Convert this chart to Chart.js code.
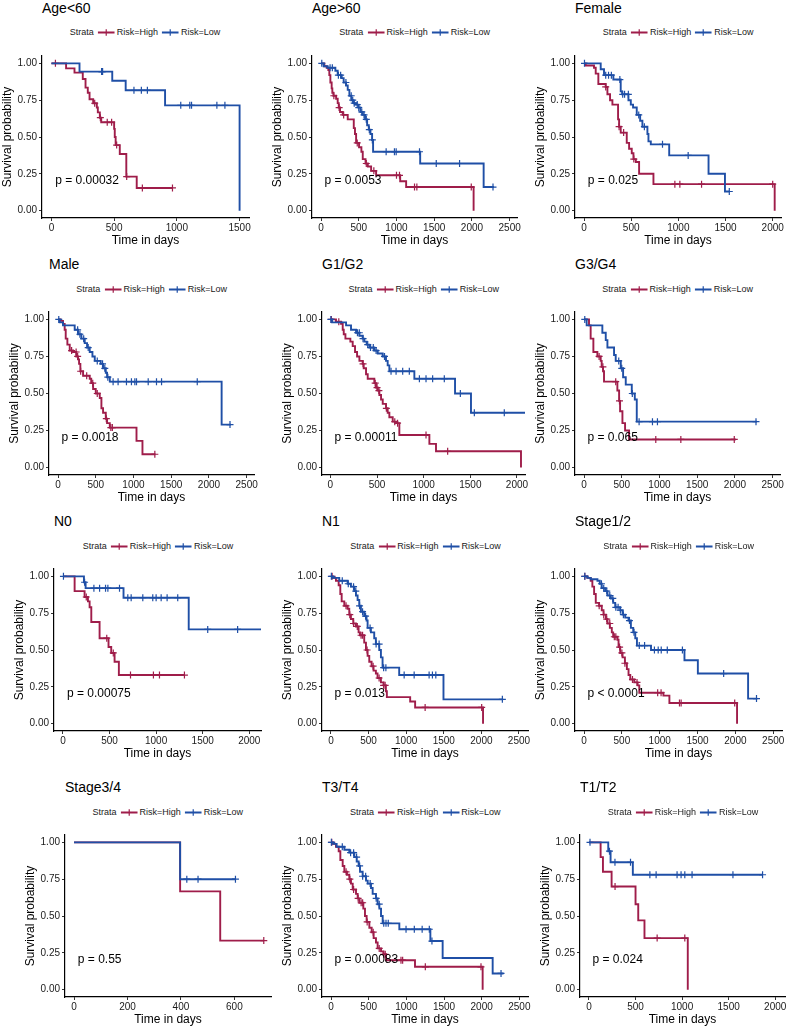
<!DOCTYPE html>
<html>
<head>
<meta charset="utf-8">
<script src="https://cdn.jsdelivr.net/npm/chart.js@4.4.0/dist/chart.umd.min.js"></script>
<style>
body { margin: 0; background: #fff; width: 789px; height: 1028px; position: relative; overflow: hidden;
       font-family: "Liberation Sans", Arial, sans-serif; }
.km_title { position: absolute; font-size: 14px; line-height: 16px; color: #000; white-space: nowrap; }
.km_legend { position: absolute; font-size: 9px; line-height: 10px; color: #1a1a1a; white-space: nowrap;
             display: flex; align-items: center; transform: translateX(-50%); }
.km_legend svg { margin: 0 2px 0 4px; }
canvas { position: absolute; }
</style>
</head>
<body>
<script>
// ---- data (time in days, survival probability) ----
const strata_labels = ['Risk=High', 'Risk=Low'];
const legend_title = 'Strata';
const y_title = 'Survival probability';
const x_title = 'Time in days';
const surv_ticks = [0, 0.25, 0.5, 0.75, 1];
const ticks_600 = [0, 200, 400, 600];
const ticks_1500 = [0, 500, 1000, 1500];
const ticks_2000 = [0, 500, 1000, 1500, 2000];
const ticks_2500 = [0, 500, 1000, 1500, 2000, 2500];

// Age<60
const age_lt60_high_time = [0, 117, 184, 250, 272, 290, 304, 333, 362, 370, 386, 397, 500, 505, 512, 545, 597, 680, 965];
const age_lt60_high_surv = [1, .966, .937, .894, .835, .80, .756, .729, .70, .667, .631, .60, .555, .50, .445, .385, .231, .154, .154];
const age_lt60_high_cens = [32, 345, 390, 445, 480, 520, 600, 725, 965];
const age_lt60_low_time = [0, 224, 485, 592, 906, 1500];
const age_lt60_low_surv = [1, .944, .882, .817, .715, 0];
const age_lt60_low_cens = [400, 408, 658, 717, 765, 1031, 1103, 1117, 1319, 1383];

// Age>60
const age_gt60_high_time = [0, 44, 75, 97, 110, 124, 141, 150, 164, 200, 221, 235, 252, 288, 354, 434, 450, 465, 504, 535, 553, 590, 620, 664, 730, 1049, 1128, 2022];
const age_gt60_high_surv = [1, .98, .97, .955, .92, .87, .83, .80, .78, .76, .73, .70, .67, .65, .62, .56, .52, .46, .43, .40, .35, .32, .30, .27, .24, .20, .16, 0];
const age_gt60_high_cens = [170, 240, 300, 480, 600, 700, 1000, 1040, 1239, 1270, 1991];
const age_gt60_low_time = [0, 35, 88, 190, 221, 274, 300, 332, 354, 376, 403, 429, 465, 496, 522, 553, 584, 611, 633, 655, 677, 690, 1314, 2155, 2290];
const age_gt60_low_surv = [1, .98, .97, .95, .92, .90, .87, .85, .82, .78, .75, .73, .72, .70, .67, .65, .62, .58, .55, .52, .48, .40, .32, .16, .16];
const age_gt60_low_cens = [10, 120, 150, 230, 260, 330, 400, 420, 440, 480, 500, 540, 570, 600, 640, 680, 863, 973, 996, 1305, 1527, 1836, 2279];

// Female
const female_high_time = [0, 18, 106, 124, 152, 230, 248, 276, 301, 361, 372, 389, 453, 478, 506, 524, 549, 584, 736, 2021];
const female_high_surv = [1, .985, .97, .93, .86, .84, .79, .75, .72, .62, .57, .53, .46, .42, .39, .35, .33, .25, .18, 0];
const female_high_cens = [230, 372, 420, 528, 963, 1016, 1246, 2000];
const female_low_time = [0, 177, 212, 311, 389, 404, 471, 496, 520, 559, 595, 619, 672, 683, 708, 903, 1320, 1494, 1540];
const female_low_surv = [1, .96, .92, .89, .81, .79, .75, .72, .70, .65, .61, .57, .52, .47, .45, .375, .25, .13, .13];
const female_low_cens = [5, 230, 260, 290, 380, 410, 430, 470, 580, 640, 832, 1104, 1540];

// Male
const male_high_time = [0, 35, 66, 88, 102, 124, 155, 199, 243, 265, 279, 296, 332, 420, 440, 465, 500, 553, 575, 597, 633, 650, 686, 1040, 1119, 1290];
const male_high_surv = [1, .99, .97, .93, .87, .83, .79, .78, .75, .73, .70, .65, .62, .60, .57, .53, .50, .47, .40, .37, .33, .30, .27, .18, .09, .09];
const male_high_cens = [180, 240, 260, 300, 380, 460, 520, 640, 700, 720, 1283];
const male_low_time = [0, 22, 66, 221, 265, 310, 354, 385, 420, 456, 487, 566, 597, 633, 650, 686, 2168, 2290];
const male_low_surv = [1, .98, .96, .93, .90, .87, .84, .81, .78, .75, .72, .70, .67, .64, .61, .58, .29, .29];
const male_low_cens = [10, 260, 290, 340, 400, 520, 590, 620, 660, 730, 796, 907, 973, 1018, 1040, 1195, 1305, 1372, 1845, 2279];

// G1/G2
const g12_high_time = [0, 60, 114, 132, 143, 161, 214, 239, 264, 286, 311, 346, 357, 382, 400, 471, 489, 507, 525, 543, 561, 596, 614, 632, 668, 704, 739, 1061, 1132, 2043];
const g12_high_surv = [1, .985, .97, .93, .90, .87, .85, .82, .78, .75, .72, .70, .67, .63, .60, .57, .54, .52, .49, .46, .43, .40, .37, .34, .31, .30, .22, .16, .11, 0];
const g12_high_cens = [10, 90, 350, 480, 500, 520, 600, 690, 720, 1025, 1257];
const g12_low_time = [0, 18, 168, 221, 275, 311, 346, 364, 389, 418, 471, 507, 561, 596, 614, 632, 900, 1336, 1507, 2200];
const g12_low_surv = [1, .98, .96, .93, .91, .89, .87, .85, .83, .81, .79, .77, .75, .72, .69, .65, .60, .50, .37, .37];
const g12_low_cens = [5, 290, 310, 350, 400, 430, 460, 490, 580, 650, 704, 775, 846, 954, 1025, 1096, 1221, 1393, 1543, 1864];

// G3/G4
const g34_high_time = [0, 66, 88, 124, 177, 221, 234, 252, 265, 442, 465, 478, 509, 544, 597, 2010];
const g34_high_surv = [1, .96, .87, .78, .75, .72, .68, .65, .58, .52, .45, .38, .30, .25, .19, .19];
const g34_high_cens = [200, 250, 420, 470, 951, 1283, 1991];
const g34_low_time = [0, 35, 243, 288, 310, 398, 420, 487, 518, 553, 633, 673, 699, 2290];
const g34_low_surv = [1, .96, .91, .86, .81, .76, .72, .67, .61, .56, .50, .46, .31, .31];
const g34_low_cens = [10, 460, 500, 640, 730, 907, 973, 2279];

// N0
const n0_high_time = [0, 125, 232, 268, 286, 304, 393, 489, 518, 554, 600, 1300];
const n0_high_surv = [1, .90, .86, .83, .79, .69, .58, .52, .48, .42, .33, .33];
const n0_high_cens = [250, 470, 540, 725, 971, 1036, 1304];
const n0_low_time = [0, 225, 243, 650, 1350, 2130];
const n0_low_surv = [1, .96, .92, .855, .64, .64];
const n0_low_cens = [5, 232, 332, 393, 457, 482, 607, 696, 732, 857, 964, 1000, 1054, 1118, 1232, 1554, 1875];

// N1
const n1_high_time = [0, 22, 66, 102, 124, 142, 177, 221, 243, 265, 296, 332, 367, 385, 442, 465, 487, 509, 540, 566, 597, 619, 664, 699, 730, 743, 1053, 1119, 2022];
const n1_high_surv = [1, .99, .97, .94, .88, .83, .80, .78, .74, .71, .68, .66, .62, .60, .55, .50, .46, .42, .39, .36, .34, .31, .28, .26, .22, .18, .15, .11, 0];
const n1_high_cens = [15, 200, 250, 300, 350, 400, 420, 480, 560, 640, 700, 720, 1252, 2004];
const n1_low_time = [0, 22, 110, 221, 265, 310, 332, 354, 376, 398, 442, 473, 487, 531, 575, 597, 642, 664, 686, 907, 1496, 2290];
const n1_low_surv = [1, .99, .97, .95, .93, .90, .87, .84, .80, .76, .73, .70, .65, .62, .58, .54, .50, .45, .38, .33, .165, .165];
const n1_low_cens = [5, 150, 230, 300, 330, 380, 420, 460, 520, 600, 640, 700, 730, 973, 1106, 1305, 1349, 1394, 2279];

// Stage1/2
const st12_high_time = [0, 44, 88, 110, 133, 155, 199, 234, 257, 288, 310, 341, 367, 385, 442, 456, 478, 509, 540, 566, 588, 611, 664, 708, 730, 1049, 1128, 2022];
const st12_high_surv = [1, .99, .97, .93, .88, .82, .80, .77, .74, .71, .68, .65, .62, .59, .57, .52, .48, .45, .41, .37, .33, .30, .28, .26, .21, .19, .14, 0];
const st12_high_cens = [10, 200, 260, 300, 340, 400, 420, 470, 500, 540, 640, 700, 973, 1018, 1261, 1283, 1991];
const st12_low_time = [0, 44, 88, 177, 208, 234, 279, 310, 354, 385, 412, 478, 509, 544, 588, 619, 650, 677, 699, 885, 1327, 1504, 2168, 2290];
const st12_low_surv = [1, .99, .98, .97, .95, .92, .90, .87, .85, .82, .79, .77, .74, .72, .70, .65, .62, .58, .53, .50, .43, .34, .17, .17];
const st12_low_cens = [10, 230, 260, 300, 340, 380, 420, 450, 480, 520, 600, 660, 730, 800, 930, 980, 1020, 1100, 1300, 1845, 2279];

// Stage3/4
const st34_high_time = [0, 397, 547, 710];
const st34_high_surv = [1, .667, .333, .333];
const st34_high_cens = [710];
const st34_low_time = [0, 397, 604];
const st34_low_surv = [1, .75, .75];
const st34_low_cens = [422, 464, 604];

// T3/T4
const t34_high_time = [0, 22, 66, 102, 124, 155, 177, 212, 243, 265, 288, 332, 354, 376, 429, 451, 473, 509, 540, 566, 597, 619, 664, 695, 730, 1115, 2013];
const t34_high_surv = [1, .99, .97, .94, .88, .84, .80, .78, .75, .72, .68, .65, .62, .59, .55, .50, .46, .42, .39, .35, .32, .28, .26, .24, .20, .155, 0];
const t34_high_cens = [10, 200, 250, 300, 360, 400, 420, 480, 560, 640, 700, 720, 929, 951, 1252, 1991];
const t34_low_time = [0, 31, 75, 177, 243, 310, 341, 367, 385, 420, 465, 487, 531, 553, 597, 619, 642, 664, 686, 907, 1319, 1482, 2146, 2290];
const t34_low_surv = [1, .99, .97, .95, .93, .90, .87, .84, .80, .77, .74, .72, .69, .65, .62, .58, .55, .50, .45, .41, .33, .215, .11, .11];
const t34_low_cens = [5, 150, 260, 300, 340, 380, 420, 460, 520, 600, 640, 700, 730, 760, 996, 1106, 1210, 1305, 1340, 2257];

// T1/T2
const t12_high_time = [0, 125, 150, 243, 500, 529, 596, 1061];
const t12_high_surv = [1, .90, .80, .70, .58, .47, .35, 0];
const t12_high_cens = [280, 732, 1029];
const t12_low_time = [0, 207, 232, 471, 1864];
const t12_low_surv = [1, .94, .865, .78, .78];
const t12_low_cens = [11, 220, 279, 446, 654, 721, 946, 989, 1029, 1107, 1546, 1864];

// ---- layout ----
const red = '#9f1d4a';
const blue = '#1f4fa6';
const y_axis_w = 44;
const x_axis_h = 30;
const pad_top = 8;
const pad_right = 12;
const rows = [
    { title_y: 8, legend_y: 32, top: 55.9, bottom: 218.1 },
    { title_y: 264, legend_y: 289, top: 311.9, bottom: 474.4 },
    { title_y: 521, legend_y: 546, top: 568.6, bottom: 730.7 },
    { title_y: 787, legend_y: 812, top: 835.3, bottom: 997.7 },
];

const panels = [
    { title: 'Age<60', p: 'p = 0.00032', row: 0, left: 41.7, right: 248.4, x_min: -75, x_max: 1575, x_ticks: ticks_1500,
      high: [age_lt60_high_time, age_lt60_high_surv, age_lt60_high_cens], low: [age_lt60_low_time, age_lt60_low_surv, age_lt60_low_cens] },
    { title: 'Age>60', p: 'p = 0.0053', row: 0, left: 312.3, right: 517, x_min: -119.5, x_max: 2597, x_ticks: ticks_2500,
      high: [age_gt60_high_time, age_gt60_high_surv, age_gt60_high_cens], low: [age_gt60_low_time, age_gt60_low_surv, age_gt60_low_cens] },
    { title: 'Female', p: 'p = 0.025', row: 0, left: 575.3, right: 781, x_min: -95.5, x_max: 2088, x_ticks: ticks_2000,
      high: [female_high_time, female_high_surv, female_high_cens], low: [female_low_time, female_low_surv, female_low_cens] },
    { title: 'Male', p: 'p = 0.0018', row: 1, left: 49.3, right: 254, x_min: -119.5, x_max: 2597, x_ticks: ticks_2500,
      high: [male_high_time, male_high_surv, male_high_cens], low: [male_low_time, male_low_surv, male_low_cens] },
    { title: 'G1/G2', p: 'p = 0.00011', row: 1, left: 322.3, right: 525.3, x_min: -90, x_max: 2086, x_ticks: ticks_2000,
      high: [g12_high_time, g12_high_surv, g12_high_cens], low: [g12_low_time, g12_low_surv, g12_low_cens] },
    { title: 'G3/G4', p: 'p = 0.065', row: 1, left: 575.3, right: 780, x_min: -119.5, x_max: 2597, x_ticks: ticks_2500,
      high: [g34_high_time, g34_high_surv, g34_high_cens], low: [g34_low_time, g34_low_surv, g34_low_cens] },
    { title: 'N0', p: 'p = 0.00075', row: 2, left: 54.3, right: 261.7, x_min: -96.4, x_max: 2126, x_ticks: ticks_2000,
      high: [n0_high_time, n0_high_surv, n0_high_cens], low: [n0_low_time, n0_low_surv, n0_low_cens] },
    { title: 'N1', p: 'p = 0.013', row: 2, left: 322.3, right: 528.7, x_min: -119.5, x_max: 2620, x_ticks: ticks_2500,
      high: [n1_high_time, n1_high_surv, n1_high_cens], low: [n1_low_time, n1_low_surv, n1_low_cens] },
    { title: 'Stage1/2', p: 'p < 0.0001', row: 2, left: 575.3, right: 782, x_min: -119.5, x_max: 2616, x_ticks: ticks_2500,
      high: [st12_high_time, st12_high_surv, st12_high_cens], low: [st12_low_time, st12_low_surv, st12_low_cens] },
    { title: 'Stage3/4', p: 'p = 0.55', row: 3, left: 65, right: 270.6, x_min: -33.75, x_max: 737, x_ticks: ticks_600,
      high: [st34_high_time, st34_high_surv, st34_high_cens], low: [st34_low_time, st34_low_surv, st34_low_cens] },
    { title: 'T3/T4', p: 'p = 0.00083', row: 3, left: 322.3, right: 528.3, x_min: -119.5, x_max: 2615, x_ticks: ticks_2500,
      high: [t34_high_time, t34_high_surv, t34_high_cens], low: [t34_low_time, t34_low_surv, t34_low_cens] },
    { title: 'T1/T2', p: 'p = 0.024', row: 3, left: 580.3, right: 785.7, x_min: -96.4, x_max: 2105, x_ticks: ticks_2000,
      high: [t12_high_time, t12_high_surv, t12_high_cens], low: [t12_low_time, t12_low_surv, t12_low_cens] },
];

Chart.defaults.font.family = '"Liberation Sans", Arial, sans-serif';

function curve_points(times, survs) {
    return times.map((t, i) => ({ x: t, y: survs[i] }));
}

function surv_at(times, survs, t) {
    let s = survs[0];
    for (let i = 0; i < times.length; i++) {
        if (times[i] <= t) {
            s = survs[i];
        } else {
            break;
        }
    }
    return s;
}

function censor_points(times, survs, cens) {
    return cens.map((t) => ({ x: t, y: surv_at(times, survs, t) }));
}

// p-value text sits at (max time / 50, 0.2) like ggsurvplot does
const pval_plugin = {
    id: 'pval',
    afterDatasetsDraw(chart, args, opts) {
        const ctx = chart.ctx;
        ctx.save();
        ctx.font = '12px "Liberation Sans", Arial, sans-serif';
        ctx.fillStyle = '#000';
        ctx.textAlign = 'left';
        ctx.textBaseline = 'middle';
        ctx.fillText(opts.text, chart.scales.x.getPixelForValue(opts.x), chart.scales.y.getPixelForValue(0.2));
        ctx.restore();
    },
};

function legend_symbol(color) {
    return '<svg width="17" height="9"><line x1="0" y1="4.5" x2="17" y2="4.5" stroke="' + color + '" stroke-width="1.8"/>' +
        '<path d="M8.5 1.2V7.8M5.2 4.5H11.8" stroke="' + color + '" stroke-width="1.2"/></svg>';
}

function axis_common() {
    return {
        grid: { display: true, drawOnChartArea: false, drawTicks: true, tickLength: 3, color: '#333', lineWidth: 1 },
        border: { display: true, color: '#000', width: 1.2 },
    };
}

function make_panel(cfg) {
    const row = rows[cfg.row];
    const c_left = Math.round(cfg.left - y_axis_w);
    const c_top = Math.round(row.top - pad_top);
    const c_w = y_axis_w + Math.round(cfg.right - cfg.left) + pad_right;
    const c_h = pad_top + Math.round(row.bottom - row.top) + x_axis_h;

    const title = document.createElement('div');
    title.className = 'km_title';
    title.style.left = Math.round(cfg.left) + 'px';
    title.style.top = (row.title_y - 8) + 'px';
    title.textContent = cfg.title;
    document.body.appendChild(title);

    const legend = document.createElement('div');
    legend.className = 'km_legend';
    legend.style.left = ((cfg.left + cfg.right) / 2) + 'px';
    legend.style.top = (row.legend_y - 5) + 'px';
    legend.innerHTML = '<span>' + legend_title + '</span>' + legend_symbol(red) + '<span>' + strata_labels[0] + '</span>' +
        legend_symbol(blue) + '<span>' + strata_labels[1] + '</span>';
    document.body.appendChild(legend);

    const canvas = document.createElement('canvas');
    canvas.width = c_w;
    canvas.height = c_h;
    canvas.style.left = c_left + 'px';
    canvas.style.top = c_top + 'px';
    canvas.style.width = c_w + 'px';
    canvas.style.height = c_h + 'px';
    document.body.appendChild(canvas);

    const [h_t, h_s, h_c] = cfg.high;
    const [l_t, l_s, l_c] = cfg.low;
    const max_time = Math.max(h_t[h_t.length - 1], l_t[l_t.length - 1]);

    const x_axis = Object.assign(axis_common(), {
        type: 'linear',
        min: cfg.x_min,
        max: cfg.x_max,
        afterBuildTicks: (axis) => { axis.ticks = cfg.x_ticks.map((v) => ({ value: v })); },
        afterFit: (axis) => { axis.height = x_axis_h; },
        ticks: { color: '#1a1a1a', font: { size: 10 }, padding: 1, maxRotation: 0, autoSkip: false,
                 callback: (v) => String(v) },
        title: { display: true, text: x_title, color: '#000', font: { size: 12 }, padding: { top: 0, bottom: 0 } },
    });
    const y_axis = Object.assign(axis_common(), {
        type: 'linear',
        min: -0.05,
        max: 1.05,
        afterBuildTicks: (axis) => { axis.ticks = surv_ticks.map((v) => ({ value: v })); },
        afterFit: (axis) => { axis.width = y_axis_w; },
        ticks: { color: '#1a1a1a', font: { size: 10 }, padding: 2, callback: (v) => Number(v).toFixed(2) },
        title: { display: true, text: y_title, color: '#000', font: { size: 12 }, padding: { top: 2, bottom: 0 } },
    });

    new Chart(canvas.getContext('2d'), {
        type: 'line',
        data: {
            datasets: [
                { label: strata_labels[1], data: curve_points(l_t, l_s), borderColor: blue, borderWidth: 1.9,
                  stepped: true, pointRadius: 0, fill: false },
                { data: censor_points(l_t, l_s, l_c), showLine: false, pointStyle: 'cross', pointRadius: 3.5,
                  borderColor: blue, borderWidth: 1.2 },
                { label: strata_labels[0], data: curve_points(h_t, h_s), borderColor: red, borderWidth: 1.9,
                  stepped: true, pointRadius: 0, fill: false },
                { data: censor_points(h_t, h_s, h_c), showLine: false, pointStyle: 'cross', pointRadius: 3.5,
                  borderColor: red, borderWidth: 1.2 },
            ],
        },
        options: {
            responsive: false,
            animation: false,
            events: [],
            layout: { padding: { top: pad_top, right: pad_right, left: 0, bottom: 0 }, autoPadding: false },
            plugins: {
                legend: { display: false },
                tooltip: { enabled: false },
                pval: { text: cfg.p, x: max_time / 50 },
            },
            scales: { x: x_axis, y: y_axis },
        },
        plugins: [pval_plugin],
    });
}

panels.forEach(make_panel);
</script>
</body>
</html>
